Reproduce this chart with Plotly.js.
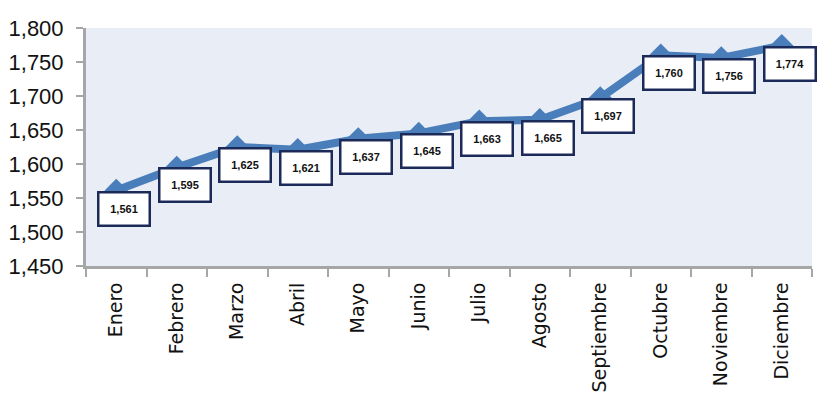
<!DOCTYPE html>
<html>
<head>
<meta charset="utf-8">
<script src="https://cdn.plot.ly/plotly-3.0.1.min.js"></script>
<style>html,body{margin:0;padding:0;background:#fff;}#chart{width:818px;height:401px;}</style>
</head>
<body>
<div id="chart"></div>
<script>
const months = ["Enero","Febrero","Marzo","Abril","Mayo","Junio","Julio","Agosto","Septiembre","Octubre","Noviembre","Diciembre"];
const values = [1561,1595,1625,1621,1637,1645,1663,1665,1697,1760,1756,1774];
const yTicks = [1450,1500,1550,1600,1650,1700,1750,1800];

const lineColor = "#4a7ebb";
const trace = {
  x: months, y: values, type: "scatter", mode: "lines+markers",
  line: {color: lineColor, width: 8},
  marker: {symbol: "diamond", size: 18, color: lineColor},
  hoverinfo: "skip", cliponaxis: false
};

const annotations = months.map((m, i) => ({
  x: m, y: values[i], xref: "x", yref: "y",
  text: "<b>" + values[i].toLocaleString("en-US") + "</b>",
  showarrow: false, xshift: 8, yshift: -18,
  font: {family: "Arial", size: 11, color: "#111"},
  bgcolor: "#ffffff", bordercolor: "#1c2a5a", borderwidth: 2.5, borderpad: 7,
  width: 35, height: 17
}));

const layout = {
  width: 818, height: 401,
  margin: {l: 86, r: 6, t: 28, b: 135},
  paper_bgcolor: "#ffffff", plot_bgcolor: "#e9edf5",
  showlegend: false,
  xaxis: {
    type: "category", tickangle: -90, tickson: "boundaries",
    ticks: "outside", ticklen: 8, tickcolor: "#a6a6a6", tickwidth: 2,
    showline: true, linecolor: "#a6a6a6", linewidth: 3,
    showgrid: false, zeroline: false, ticklabelstandoff: 6,
    tickfont: {family: "DejaVu Sans", size: 19, color: "#111"},
    range: [-0.5, 11.5]
  },
  yaxis: {
    range: [1450, 1800], tickvals: yTicks,
    ticktext: yTicks.map(v => v.toLocaleString("en-US")),
    ticks: "outside", ticklen: 7, tickcolor: "#a6a6a6", tickwidth: 2,
    showline: true, linecolor: "#a6a6a6", linewidth: 3,
    showgrid: false, zeroline: false, ticklabelstandoff: 8,
    tickfont: {family: "Arial", size: 22, color: "#111"}
  },
  annotations: annotations
};

Plotly.newPlot("chart", [trace], layout, {displayModeBar: false, staticPlot: true});
</script>
</body>
</html>
